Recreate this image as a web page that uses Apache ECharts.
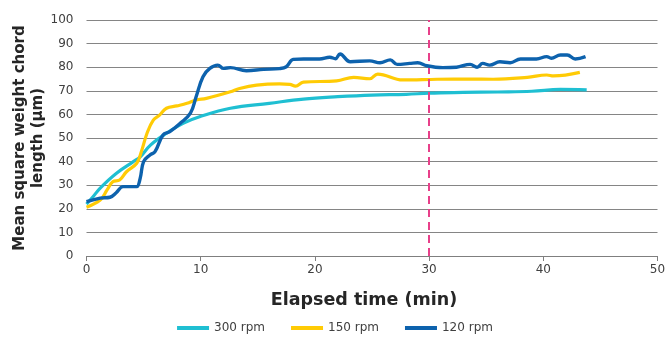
<!DOCTYPE html>
<html>
<head>
<meta charset="utf-8">
<script src="https://cdn.jsdelivr.net/npm/echarts@6/dist/echarts.min.js"></script>
<style>html,body{margin:0;padding:0;background:#fff;}#c{width:670px;height:337px;}</style>
</head>
<body>
<div id="c"></div>
<script>
var xTicks = [0, 10, 20, 30, 40, 50];
var yTicks = [0, 10, 20, 30, 40, 50, 60, 70, 80, 90, 100];

var t300 = [0, 0.57, 1.2, 2.6, 4.1, 4.7, 5.6, 7.0, 8.5, 9.9, 12.6, 16, 19, 22, 25, 28, 30, 33, 36, 39, 41.5, 43.8];
var v300 = [22, 25.1, 28.8, 35, 40, 42, 47, 52, 56.3, 59, 62.6, 64.7, 66.5, 67.5, 68.2, 68.5, 69, 69.3, 69.5, 69.8, 70.6, 70.4];

var t150 = [0, 1.2, 1.8, 2.3, 2.9, 3.5, 4.4, 4.8, 5.3, 5.85, 6.4, 7.0, 7.9, 8.8, 9.6, 10.5, 12.6, 13.4, 14.9, 16.9, 17.8, 18.3, 19.0, 21.9, 23.4, 24.8, 25.5, 27.7, 30.7, 33.6, 35.6, 38.6, 40.3, 40.9, 43.2];
var v150 = [20.7, 23.7, 28, 31.5, 32.2, 35.7, 39.3, 44.2, 52, 57.6, 59.7, 62.6, 63.6, 64.7, 66.1, 66.8, 69.6, 71, 72.4, 72.9, 72.7, 72, 73.7, 74.2, 75.7, 75.1, 77.1, 74.6, 74.9, 75, 74.9, 75.7, 76.7, 76.3, 77.8];

var t120 = [0, 1.2, 2.06, 2.6, 3.2, 4.1, 4.4, 4.7, 5.0, 5.56, 6.0, 6.7, 7.3, 8.2, 9.1, 9.6, 10.2, 10.8, 11.5, 12, 12.6, 14.0, 15.5, 16.9, 17.5, 18.1, 19.0, 20.4, 21.3, 21.8, 22.2, 23.1, 24.8, 25.7, 26.6, 27.2, 28.3, 29.0, 29.8, 31.2, 32.4, 33.6, 34.2, 34.7, 35.3, 36.2, 37.1, 38.0, 39.4, 40.3, 40.7, 41.5, 42.1, 42.8, 43.7];
var v120 = [23, 24.5, 24.9, 26.8, 29.4, 29.4, 29.4, 32.9, 40, 42.8, 44.2, 51.3, 52.7, 56.2, 60.5, 67.5, 76, 79.5, 80.9, 79.5, 79.8, 78.5, 79.1, 79.4, 80.2, 83.3, 83.5, 83.5, 84.2, 83.6, 85.6, 82.3, 82.7, 81.9, 83.1, 81.2, 81.6, 81.9, 80.6, 79.8, 80, 81.2, 80, 81.6, 80.9, 82.3, 81.9, 83.5, 83.5, 84.5, 83.8, 85.2, 85.2, 83.5, 84.5];

var seriesNames = ['300 rpm', '150 rpm', '120 rpm'];
var markerTime = 30;
var xTitle = 'Elapsed time (min)';
var yTitle = 'Mean square weight chord\nlength (µm)';

function pairs(t, v) { return t.map(function (x, i) { return [x, v[i]]; }); }

var font = 'DejaVu Sans, Verdana, sans-serif';
var chart = echarts.init(document.getElementById('c'), null, { renderer: 'canvas' });
chart.setOption({
  animation: false,
  backgroundColor: '#fff',
  textStyle: { fontFamily: font },
  grid: { left: 86.5, right: 12.5, top: 20, bottom: 81 },
  legend: {
    data: seriesNames,
    top: 317,
    left: 'center',
    itemWidth: 32,
    itemHeight: 4,
    itemGap: 26,
    icon: 'rect',
    textStyle: { fontFamily: font, fontSize: 12, color: '#404040' }
  },
  xAxis: {
    type: 'value', min: 0, max: 50, interval: 10,
    axisLine: { show: true, lineStyle: { color: '#7f7f7f', width: 1 } },
    axisTick: { show: true, length: 5, lineStyle: { color: '#7f7f7f' } },
    axisLabel: { fontFamily: font, fontSize: 12, color: '#404040', margin: 8,
      formatter: function (v) { return xTicks.indexOf(v) >= 0 ? String(v) : ''; } },
    splitLine: { show: false }
  },
  yAxis: {
    type: 'value', min: 0, max: 100, interval: 10,
    axisLine: { show: false }, axisTick: { show: false },
    axisLabel: { fontFamily: font, fontSize: 12, color: '#404040', margin: 13,
      formatter: function (v) { return yTicks.indexOf(v) >= 0 ? String(v) : ''; } },
    splitLine: { show: true, lineStyle: { color: '#858585', width: 1 } }
  },
  graphic: [{
    type: 'text', x: 29, y: 138, rotation: Math.PI / 2,
    style: { text: yTitle, fontFamily: font, fontSize: 15, fontWeight: 'bold',
      fill: '#262626', align: 'center', verticalAlign: 'middle', lineHeight: 18 }
  }, {
    type: 'text', x: 364, y: 300,
    style: { text: xTitle, fontFamily: font, fontSize: 17.5, fontWeight: 'bold',
      fill: '#262626', align: 'center', verticalAlign: 'middle' }
  }],
  series: [
    { name: seriesNames[0], type: 'line', data: pairs(t300, v300), smooth: 0.4, showSymbol: false,
      lineStyle: { color: '#1fbfd2', width: 3.2 }, itemStyle: { color: '#1fbfd2' }, z: 3 },
    { name: seriesNames[1], type: 'line', data: pairs(t150, v150), smooth: 0.4, showSymbol: false,
      lineStyle: { color: '#ffcb05', width: 3.2 }, itemStyle: { color: '#ffcb05' }, z: 4 },
    { name: seriesNames[2], type: 'line', data: pairs(t120, v120), smooth: 0.4, showSymbol: false,
      lineStyle: { color: '#0d62ad', width: 3.4 }, itemStyle: { color: '#0d62ad' }, z: 5,
      markLine: { silent: true, symbol: 'none', label: { show: false },
        lineStyle: { color: '#e8408a', type: [8, 5], width: 2 },
        data: [{ xAxis: markerTime }] } }
  ]
});
</script>
</body>
</html>
